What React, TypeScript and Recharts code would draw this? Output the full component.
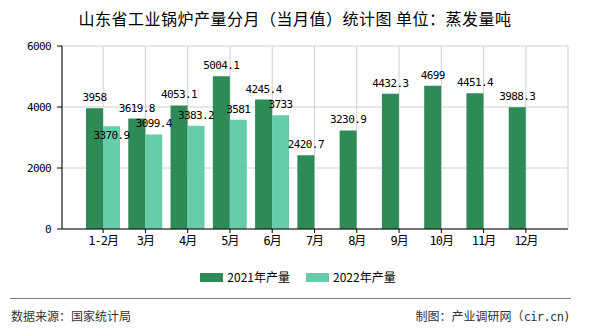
import React from "react";
import {
  BarChart,
  Bar,
  XAxis,
  YAxis,
  CartesianGrid,
  Legend,
  LabelList,
} from "recharts";

if (typeof document !== "undefined") {
  document.body.style.margin = "0";
}

const months = ["1-2月", "3月", "4月", "5月", "6月", "7月", "8月", "9月", "10月", "11月", "12月"];
const output2021 = [3958, 3619.8, 4053.1, 5004.1, 4245.4, 2420.7, 3230.9, 4432.3, 4699, 4451.4, 3988.3];
const output2022: (number | null)[] = [3370.9, 3099.4, 3383.2, 3581, 3733, null, null, null, null, null, null];
const yTicks = [0, 2000, 4000, 6000];

const data = months.map((m, i) => ({ month: m, a: output2021[i], b: output2022[i] }));

const DARK = "#2E8B57";
const LIGHT = "#66CDAA";
const MONO = "'DejaVu Sans Mono','Noto Sans CJK SC',monospace";
const CJK = "'Noto Sans CJK SC','DejaVu Sans',sans-serif";

const makeLabel = (series: "a" | "b") => (props: any) => {
  const { x, y, width, value, index } = props;
  if (value === null || value === undefined) return null;
  const shift = series === "b" && index === 0 ? 20 : 0;
  return (
    <text
      x={Number(x) + Number(width) / 2}
      y={Number(y) - 7 + shift}
      textAnchor="middle"
      fontSize={11}
      fontFamily={MONO}
      style={{ letterSpacing: "-0.6px" }}
      fill="#000"
    >
      {value}
    </text>
  );
};

const LegendContent = () => (
  <div
    style={{
      display: "flex",
      justifyContent: "center",
      alignItems: "center",
      fontFamily: CJK,
      fontSize: 12,
      color: "#000",
      paddingLeft: 6,
    }}
  >
    {[
      { label: "2021年产量", color: DARK },
      { label: "2022年产量", color: LIGHT },
    ].map((it, i) => (
      <div key={i} style={{ display: "flex", alignItems: "center", marginLeft: i ? 16 : 0 }}>
        <span style={{ display: "inline-block", width: 23, height: 9, background: it.color, marginRight: 4 }} />
        <span style={{ lineHeight: "14px" }}>{it.label}</span>
      </div>
    ))}
  </div>
);

export default function App() {
  return (
    <div style={{ position: "relative", width: 590, height: 330, background: "#fff", overflow: "hidden" }}>
      <div
        style={{
          position: "absolute",
          top: 7,
          left: 0,
          width: 590,
          textAlign: "center",
          fontFamily: CJK,
          fontSize: 16,
          letterSpacing: "0.5px",
          lineHeight: "22px",
          color: "#000",
        }}
      >
        山东省工业锅炉产量分月（当月值）统计图 单位：蒸发量吨
      </div>
      <BarChart
        width={590}
        height={330}
        data={data}
        margin={{ top: 46, right: 22, bottom: 71, left: 0 }}
        barGap={0}
        barSize={17}
      >
        <CartesianGrid stroke="#d0d0d0" vertical horizontal />
        <XAxis
          dataKey="month"
          height={30}
          padding={{ left: 20, right: 21 }}
          axisLine={{ stroke: "#000" }}
          tickLine={{ stroke: "#000" }}
          tickSize={4}
          tickMargin={3}
          interval={0}
          tick={{ fontSize: 12, fill: "#000", fontFamily: MONO, style: { letterSpacing: "-1px" } } as any}
        />
        <YAxis
          width={62}
          domain={[0, 6000]}
          ticks={yTicks}
          axisLine={{ stroke: "#000" }}
          tickLine={{ stroke: "#000" }}
          tickSize={5}
          tickMargin={6}
          tick={{ fontSize: 11, fill: "#000", fontFamily: MONO, style: { letterSpacing: "-0.6px" } } as any}
        />
        <YAxis
          yAxisId="r"
          orientation="right"
          width={0}
          domain={[0, 6000]}
          axisLine={{ stroke: "#d0d0d0" }}
          tick={false}
          tickLine={false}
        />
        <Legend
          layout="horizontal"
          verticalAlign="middle"
          align="center"
          content={<LegendContent />}
          wrapperStyle={{ top: 270, left: 0, width: 590 }}
        />
        <Bar dataKey="a" name="2021年产量" fill={DARK} isAnimationActive={false}>
          <LabelList dataKey="a" content={makeLabel("a")} />
        </Bar>
        <Bar dataKey="b" name="2022年产量" fill={LIGHT} isAnimationActive={false}>
          <LabelList dataKey="b" content={makeLabel("b")} />
        </Bar>
      </BarChart>
      <div style={{ position: "absolute", left: 10, top: 298, width: 561, height: 1, background: "#808080" }} />
      <div
        style={{
          position: "absolute",
          left: 11,
          top: 307,
          fontFamily: CJK,
          fontSize: 12,
          lineHeight: "18px",
          color: "#333",
        }}
      >
        数据来源：国家统计局
      </div>
      <div
        style={{
          position: "absolute",
          right: 20,
          top: 307,
          fontFamily: CJK,
          fontSize: 12,
          lineHeight: "18px",
          color: "#333",
        }}
      >
        制图：产业调研网（<span style={{ fontFamily: MONO, letterSpacing: "-0.6px" }}>cir.cn)</span>
      </div>
    </div>
  );
}
